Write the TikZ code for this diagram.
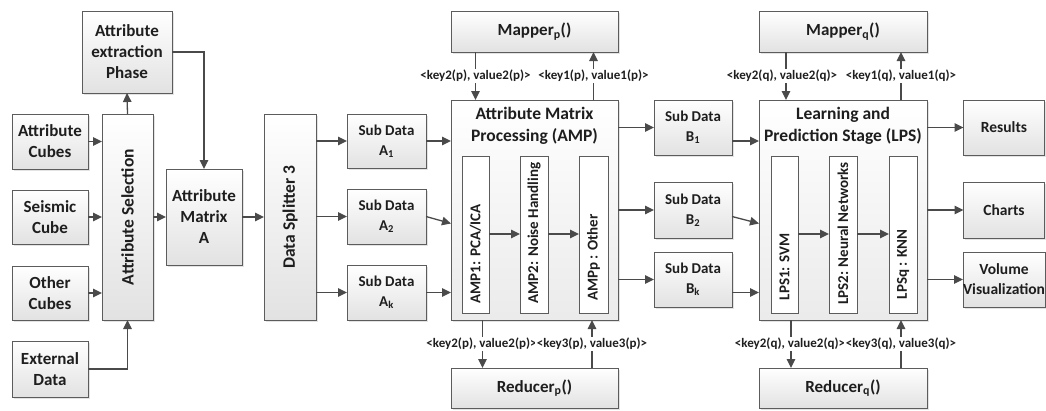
\documentclass[tikz,border=0pt]{standalone}
\usepackage{fontspec}
\setmainfont{Carlito}
\usetikzlibrary{arrows.meta,shadows}

\definecolor{edgegray}{HTML}{5C5C5C}
\definecolor{linkgray}{HTML}{4A4A4A}
\definecolor{inkgray}{HTML}{1E1E1E}
\definecolor{shadegray}{HTML}{E2E2E2}

\tikzset{
  box/.style={draw=edgegray, line width=0.9pt, inner sep=0pt, outer sep=0pt,
    top color=white, bottom color=shadegray, align=center, text=inkgray,
    font=\fontsize{17}{21}\selectfont\bfseries,
    drop shadow={shadow xshift=1.5pt, shadow yshift=-1.5pt, opacity=0.22}},
  subbox/.style={box, font=\fontsize{15}{20}\selectfont\bfseries},
  outbox/.style={box, font=\fontsize{15.5}{20}\selectfont\bfseries},
  bigbox/.style={draw=edgegray, line width=0.9pt, inner sep=0pt, outer sep=0pt,
    top color=white, bottom color=shadegray!70,
    drop shadow={shadow xshift=1.5pt, shadow yshift=-1.5pt, opacity=0.22}},
  stagebox/.style={draw=edgegray, line width=0.9pt, inner sep=0pt, outer sep=0pt,
    fill=white},
  stagetext/.style={rotate=90, anchor=west, inner sep=0pt, text=inkgray,
    font=\fontsize{15}{18}\selectfont\bfseries},
  title/.style={align=center, text=inkgray, inner sep=0pt,
    font=\fontsize{17.5}{22.5}\selectfont\bfseries},
  kv/.style={fill=white, inner sep=1.5pt, text=inkgray,
    font=\fontsize{13}{15}\selectfont\bfseries},
  link/.style={draw=linkgray, line width=1.3pt,
    -{Triangle[length=9pt,width=8.5pt]}},
}

\begin{document}
\begin{tikzpicture}[x=1pt, y=-1pt]
\useasboundingbox (0,0) rectangle (1046,410);

% ---------- input stage ----------
\node[box, minimum width=90, minimum height=82] (ext) at (127,52)
  {Attribute\\extraction\\Phase};
\node[box, minimum width=76, minimum height=55] (cubes) at (50,141.5)
  {Attribute\\Cubes};
\node[box, minimum width=76, minimum height=54] (seis) at (50,217)
  {Seismic\\Cube};
\node[box, minimum width=76, minimum height=54] (other) at (50,293)
  {Other\\Cubes};
\node[box, minimum width=76, minimum height=56] (extd) at (50,369)
  {External\\Data};
\node[box, minimum width=51, minimum height=206] (sel) at (127.5,217) {};
\node[rotate=90, text=inkgray, font=\fontsize{17.5}{21}\selectfont\bfseries]
  at (sel.center) {Attribute Selection};
\node[box, minimum width=76, minimum height=96] (mat) at (204,217)
  {Attribute\\Matrix\\A};
\node[box, minimum width=52, minimum height=206] (split) at (290,217) {};
\node[rotate=90, text=inkgray, font=\fontsize{17.5}{21}\selectfont\bfseries]
  at (split.center) {Data Splitter 3};

% ---------- sub data A ----------
\node[subbox, minimum width=79, minimum height=54] (a1) at (386.5,141)
  {Sub Data\\A\textsubscript{1}};
\node[subbox, minimum width=79, minimum height=55] (a2) at (386.5,216.5)
  {Sub Data\\A\textsubscript{2}};
\node[subbox, minimum width=79, minimum height=55] (ak) at (386.5,292.5)
  {Sub Data\\A\textsubscript{k}};

% ---------- attribute matrix processing ----------
\node[box, minimum width=167, minimum height=41] (mapp) at (534.5,31.5)
  {Mapper\textsubscript{p}()};
\node[bigbox, minimum width=167, minimum height=220] (amp) at (534.5,210) {};
\node[title] (amptitle) at (534.5,126) {Attribute Matrix\\Processing (AMP)};
\node[box, minimum width=167, minimum height=40] (redp) at (534.5,388)
  {Reducer\textsubscript{p}()};
\node[stagebox, minimum width=27, minimum height=157] (amp1) at (475.5,234.5) {};
\node[stagebox, minimum width=28, minimum height=157] (amp2) at (534,234.5) {};
\node[stagebox, minimum width=29, minimum height=157] (ampp) at (593.5,234.5) {};
\node[stagetext] at (475.5,303.5) {AMP1: PCA/ICA};
\node[stagetext] at (534,303.5) {AMP2: Noise Handling};
\node[stagetext] at (593.5,301) {AMPp : Other};

% ---------- sub data B ----------
\node[subbox, minimum width=78, minimum height=55] (b1) at (693,127.5)
  {Sub Data\\B\textsubscript{1}};
\node[subbox, minimum width=78, minimum height=56] (b2) at (693,210)
  {Sub Data\\B\textsubscript{2}};
\node[subbox, minimum width=78, minimum height=55] (bk) at (693,279.5)
  {Sub Data\\B\textsubscript{k}};

% ---------- learning and prediction ----------
\node[box, minimum width=168, minimum height=41] (mapq) at (843,31.5)
  {Mapper\textsubscript{q}()};
\node[bigbox, minimum width=168, minimum height=220] (lps) at (843,210) {};
\node[title] (lpstitle) at (843,126) {Learning and\\Prediction Stage (LPS)};
\node[box, minimum width=168, minimum height=40] (redq) at (843,388)
  {Reducer\textsubscript{q}()};
\node[stagebox, minimum width=27, minimum height=157] (lps1) at (784.5,234.5) {};
\node[stagebox, minimum width=28, minimum height=157] (lps2) at (843,234.5) {};
\node[stagebox, minimum width=28, minimum height=157] (lpsq) at (903,234.5) {};
\node[stagetext] at (784.5,300.5) {LPS1: SVM};
\node[stagetext] at (843,305) {LPS2: Neural Networks};
\node[stagetext] at (903,299.5) {LPSq : KNN};

% ---------- outputs ----------
\node[outbox, minimum width=81, minimum height=55] (res) at (1004,127.5) {Results};
\node[outbox, minimum width=81, minimum height=56] (chart) at (1004,210) {Charts};
\node[outbox, minimum width=81, minimum height=55] (vol) at (1004,279.5)
  {Volume\\Visualization};

% ---------- connectors: input stage ----------
\draw[link] (cubes) -- (cubes -| sel.west);
\draw[link] (seis) -- (seis -| sel.west);
\draw[link] (other) -- (other -| sel.west);
\draw[link] (extd.east) -| (sel.south);
\draw[link] (sel.north) -- (ext.south);
\draw[link] (ext.east) -| (mat.north);
\draw[link] (sel.east |- mat) -- (mat.west);
\draw[link] (mat.east) -- (mat -| split.west);
\draw[link] (split.east |- a1) -- (a1.west);
\draw[link] (split.east |- a2) -- (a2.west);
\draw[link] (split.east |- ak) -- (ak.west);

% ---------- connectors: AMP ----------
\draw[link] (a1.east) -- (a1 -| amp.west);
\draw[link] (a2.east) -- ([yshift=-7pt]a2 -| amp.west);
\draw[link] (ak.east) -- (ak -| amp.west);
\draw[link] (amp1.east |- 0,234) -- (amp2.west |- 0,234);
\draw[link] (amp2.east |- 0,234) -- (ampp.west |- 0,234);
\draw[link] (mapp.south -| amp1) -- (amp.north -| amp1)
  node[kv, pos=0.5] {<key2(p), value2(p)>};
\draw[link] (amp.north -| ampp) -- (mapp.south -| ampp)
  node[kv, pos=0.5] {<key1(p), value1(p)>};
\draw[link] ([xshift=7pt]amp.south -| amp1) -- ([xshift=7pt]redp.north -| amp1)
  node[kv, pos=0.5, xshift=-1pt] {<key2(p), value2(p)>};
\draw[link] ([xshift=-1.5pt]redp.north -| ampp) -- ([xshift=-1.5pt]amp.south -| ampp)
  node[kv, pos=0.5] {<key3(p), value3(p)>};
\draw[link] (amp.east |- b1) -- (b1.west);
\draw[link] (amp.east |- b2) -- (b2.west);
\draw[link] (amp.east |- bk) -- (bk.west);

% ---------- connectors: LPS ----------
\draw[link] (b1.east |- a1) -- (lps.west |- a1);
\draw[link] (b2.east |- a2) -- ([yshift=-7pt]lps.west |- a2);
\draw[link] (bk.east |- ak) -- (lps.west |- ak);
\draw[link] (lps1.east |- 0,234) -- (lps2.west |- 0,234);
\draw[link] (lps2.east |- 0,234) -- (lpsq.west |- 0,234);
\draw[link] ([xshift=1.5pt]mapq.south -| lps1) -- ([xshift=1.5pt]lps.north -| lps1)
  node[kv, pos=0.5, xshift=-4pt] {<key2(q), value2(q)>};
\draw[link] ([xshift=-2pt]lps.north -| lpsq) -- ([xshift=-2pt]mapq.south -| lpsq)
  node[kv, pos=0.5] {<key1(q), value1(q)>};
\draw[link] ([xshift=6.5pt]lps.south -| lps1) -- ([xshift=6.5pt]redq.north -| lps1)
  node[kv, pos=0.5, xshift=-1pt] {<key2(q), value2(q)>};
\draw[link] ([xshift=-2pt]redq.north -| lpsq) -- ([xshift=-2pt]lps.south -| lpsq)
  node[kv, pos=0.5] {<key3(q), value3(q)>};
\draw[link] (lps.east |- res) -- (res.west);
\draw[link] (lps.east |- chart) -- (chart.west);
\draw[link] (lps.east |- vol) -- (vol.west);
\end{tikzpicture}
\end{document}
